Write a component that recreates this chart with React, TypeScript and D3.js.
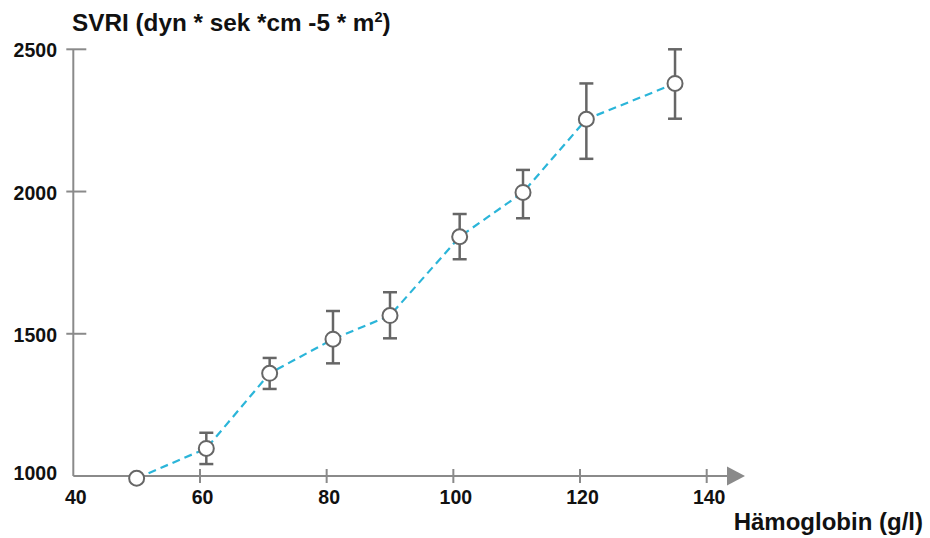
import React from 'react';
import * as d3 from 'd3';

const hemoglobin = [50, 61, 71, 81, 90, 101, 111, 121, 135];
const svri = [992, 1097, 1361, 1481, 1564, 1841, 1997, 2254, 2380];
const upper = [null, 1152, 1415, 1580, 1646, 1921, 2076, 2380, 2500];
const lower = [null, 1042, 1306, 1396, 1484, 1762, 1906, 2115, 2256];
const xTicks = [40, 60, 80, 100, 120, 140];
const yTicks = [1000, 1500, 2000, 2500];

const width = 930;
const height = 538;
const axisColor = '#8a8a8a';
const markColor = '#666666';
const lineColor = '#2bb5d9';
const font = 'Liberation Sans, Arial, sans-serif';

export default function App() {
    const x = d3.scaleLinear().domain([40, 140]).range([73.3, 706.7]);
    const y = d3.scaleLinear().domain([1000, 2500]).range([476, 49.3]);

    const pts = hemoglobin.map((h, i) => [x(h), y(svri[i])] as [number, number]);
    const line = d3.line().curve(d3.curveLinear)(pts);

    const x0 = x(40);
    const y0 = y(1000);
    const axisEnd = 727;

    return (
        <svg
            width={width}
            height={height}
            style={{ position: 'absolute', left: 0, top: 0, background: '#fff' }}
            fontFamily={font}
        >
            {/* axes */}
            <g stroke={axisColor} strokeWidth={2}>
                <line x1={x0} y1={y0} x2={axisEnd} y2={y0} />
                <line x1={x0} y1={y0} x2={x0} y2={y(2500)} />
                {xTicks.slice(1).map(t => (
                    <line key={t} x1={x(t)} x2={x(t)} y1={y0 - 7} y2={y0 + 7} />
                ))}
                {yTicks.slice(1).map(t => (
                    <line key={t} x1={x0 - 7} x2={x0 + 13} y1={y(t)} y2={y(t)} />
                ))}
            </g>
            <path
                d={`M${axisEnd},${y0 - 9.5} L${axisEnd + 18},${y0} L${axisEnd},${y0 + 9.5} Z`}
                fill={axisColor}
            />

            {/* tick labels */}
            <g fontSize={19.5} fontWeight="bold" fill="#111">
                {xTicks.map(t => (
                    <text key={t} x={x(t) + 2.5} y={504} textAnchor="middle">
                        {t}
                    </text>
                ))}
                {yTicks.map(t => (
                    <text key={t} x={57} y={y(t) + (t === 1000 ? 3.5 : 8)} textAnchor="end">
                        {t}
                    </text>
                ))}
            </g>

            {/* titles */}
            <text x={72} y={31} fontSize={24.3} fontWeight="bold" fill="#111">
                SVRI (dyn * sek *cm -5 * m
                <tspan fontSize={14.5} dy={-9}>2</tspan>
                <tspan dy={9}>)</tspan>
            </text>
            <text x={923} y={530} fontSize={24} fontWeight="bold" fill="#111" textAnchor="end">
                Hämoglobin (g/l)
            </text>

            {/* dashed connecting line */}
            <path d={line || ''} fill="none" stroke={lineColor} strokeWidth={2.2} strokeDasharray="8,5" />

            {/* error bars */}
            <g stroke={markColor} strokeWidth={2.5}>
                {hemoglobin.map((h, i) => {
                    const hi = upper[i];
                    const lo = lower[i];
                    if (hi === null || lo === null) return null;
                    const cx = x(h);
                    return (
                        <g key={i}>
                            <line x1={cx} x2={cx} y1={y(hi)} y2={y(lo)} />
                            <line x1={cx - 7} x2={cx + 7} y1={y(hi)} y2={y(hi)} />
                            <line x1={cx - 7} x2={cx + 7} y1={y(lo)} y2={y(lo)} />
                        </g>
                    );
                })}
            </g>

            {/* points */}
            {pts.map((p, i) => (
                <circle key={i} cx={p[0]} cy={p[1]} r={7.5} fill="#fff" stroke={markColor} strokeWidth={2} />
            ))}
        </svg>
    );
}
